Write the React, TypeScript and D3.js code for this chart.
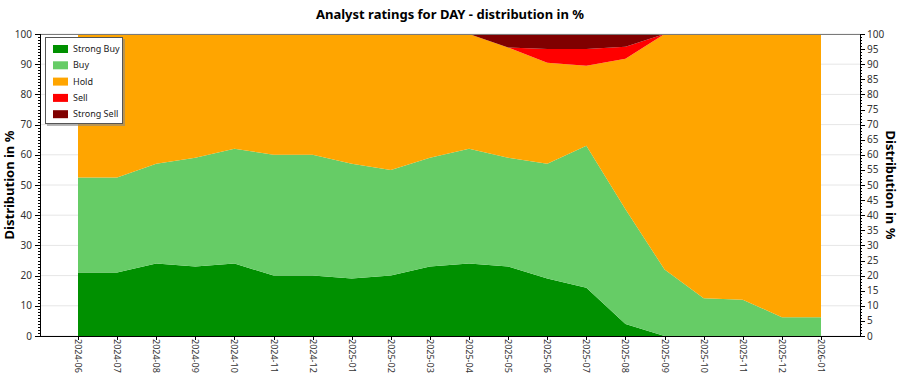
import React from 'react';
import * as d3 from 'd3';

const months = ['2024-06','2024-07','2024-08','2024-09','2024-10','2024-11','2024-12','2025-01','2025-02','2025-03','2025-04','2025-05','2025-06','2025-07','2025-08','2025-09','2025-10','2025-11','2025-12','2026-01'];
const strongBuy = [21, 21, 24, 23, 24, 20, 20, 19, 20, 23, 24, 23, 19, 16, 4, 0, 0, 0, 0, 0];
const buy = [31.5, 31.5, 33, 36, 38, 40, 40, 38, 35, 36, 38, 36, 38, 47, 38, 22, 12.5, 12, 6.25, 6.25];
const hold = [47.5, 47.5, 43, 41, 38, 40, 40, 43, 45, 41, 38, 36.5, 33.5, 26.5, 49.8, 78, 87.5, 88, 93.75, 93.75];
const sell = [0, 0, 0, 0, 0, 0, 0, 0, 0, 0, 0, 0, 4.5, 5.5, 4, 0, 0, 0, 0, 0];
const strongSell = [0, 0, 0, 0, 0, 0, 0, 0, 0, 0, 0, 4.5, 5, 5, 4.2, 0, 0, 0, 0, 0];

const seriesNames = ['Strong Buy', 'Buy', 'Hold', 'Sell', 'Strong Sell'];
const seriesColors = ['#009000', '#66CC66', '#FFA500', '#FF0000', '#800000'];
const leftTicks = [0, 10, 20, 30, 40, 50, 60, 70, 80, 90, 100];
const rightTicks = [0, 5, 10, 15, 20, 25, 30, 35, 40, 45, 50, 55, 60, 65, 70, 75, 80, 85, 90, 95, 100];

const W = 900, H = 375;
const L = 40, R = 860, T = 34, B = 336;
const FONT = '"Noto Sans", "DejaVu Sans", sans-serif';

export default function App() {
  const x = d3.scalePoint<string>().domain(months).range([78, 821]);
  const y = d3.scaleLinear().domain([0, 100]).range([B, T]);
  const table = months.map((m, i) => ({
    month: m,
    'Strong Buy': strongBuy[i],
    'Buy': buy[i],
    'Hold': hold[i],
    'Sell': sell[i],
    'Strong Sell': strongSell[i],
  }));
  const stack = d3.stack<any>().keys(seriesNames)(table);
  const area = d3.area<any>()
    .x((d) => x(d.data.month) as number)
    .y0((d) => y(d[0]))
    .y1((d) => y(Math.min(100, d[1])));
  const minor = d3.range(0, 101, 1);

  return (
    <svg width={W} height={H} style={{ position: 'absolute', left: 0, top: 0, background: '#fff' }} fontFamily={FONT}>
      <text x={450} y={19} textAnchor="middle" fontSize={13} fontWeight="bold" fill="#000">Analyst ratings for DAY - distribution in %</text>
      {leftTicks.map((t) => (
        <line key={'g' + t} x1={L} x2={R} y1={y(t)} y2={y(t)} stroke="#e6e6e6" strokeWidth={1} />
      ))}
      {stack.map((s, i) => (
        <path key={s.key} d={area(s) || ''} fill={seriesColors[i]} stroke="none" />
      ))}
      <line x1={L} x2={R} y1={T + 0.5} y2={T + 0.5} stroke="#7a7a7a" strokeWidth={1} />
      <line x1={L + 0.5} x2={L + 0.5} y1={T} y2={B} stroke="#000" strokeWidth={1} />
      {minor.map((t) => (
        <line key={'lm' + t} x1={L - 2} x2={L} y1={Math.round(y(t)) + 0.5} y2={Math.round(y(t)) + 0.5} stroke="#000" strokeWidth={1} />
      ))}
      {leftTicks.map((t) => (
        <g key={'l' + t}>
          <line x1={L - 5} x2={L} y1={Math.round(y(t)) + 0.5} y2={Math.round(y(t)) + 0.5} stroke="#000" />
          <text x={L - 8} y={y(t)} dy="0.35em" textAnchor="end" fontSize={10} fill="#333">{t}</text>
        </g>
      ))}
      <text transform={`translate(14,${(T + B) / 2}) rotate(-90)`} textAnchor="middle" fontSize={13} fontWeight="bold" fill="#000">Distribution in %</text>
      <line x1={R + 0.5} x2={R + 0.5} y1={T} y2={B} stroke="#000" strokeWidth={1} />
      {minor.map((t) => (
        <line key={'rm' + t} x1={R} x2={R + 2} y1={Math.round(y(t)) + 0.5} y2={Math.round(y(t)) + 0.5} stroke="#000" strokeWidth={1} />
      ))}
      {rightTicks.map((t) => (
        <g key={'r' + t}>
          <line x1={R} x2={R + 5} y1={Math.round(y(t)) + 0.5} y2={Math.round(y(t)) + 0.5} stroke="#000" />
          <text x={R + 7} y={y(t)} dy="0.35em" textAnchor="start" fontSize={10} fill="#333">{t}</text>
        </g>
      ))}
      <text transform={`translate(886,${(T + B) / 2}) rotate(90)`} textAnchor="middle" fontSize={13} fontWeight="bold" fill="#000">Distribution in %</text>
      <line x1={L} x2={R} y1={B + 0.5} y2={B + 0.5} stroke="#000" strokeWidth={1} />
      {months.map((m) => {
        const px = Math.round(x(m) as number) + 0.5;
        return (
          <g key={m}>
            <line x1={px} x2={px} y1={B} y2={B + 4} stroke="#000" />
            <text transform={`translate(${px},${B + 3}) rotate(90)`} dy="0.35em" textAnchor="start" fontSize={9} fill="#333">{m}</text>
          </g>
        );
      })}
      <rect x={47} y={39} width={78} height={87} fill="#888" opacity={0.6} />
      <rect x={45.5} y={37.5} width={77} height={86} fill="#fff" stroke="#555" strokeWidth={1} />
      {seriesNames.map((n, i) => (
        <g key={'lg' + n} transform={`translate(53,${49 + i * 16.3})`}>
          <rect x={0} y={-4} width={15} height={8} fill={seriesColors[i]} />
          <text x={20} y={0} dy="0.35em" fontSize={9} fill="#222">{n}</text>
        </g>
      ))}
    </svg>
  );
}
